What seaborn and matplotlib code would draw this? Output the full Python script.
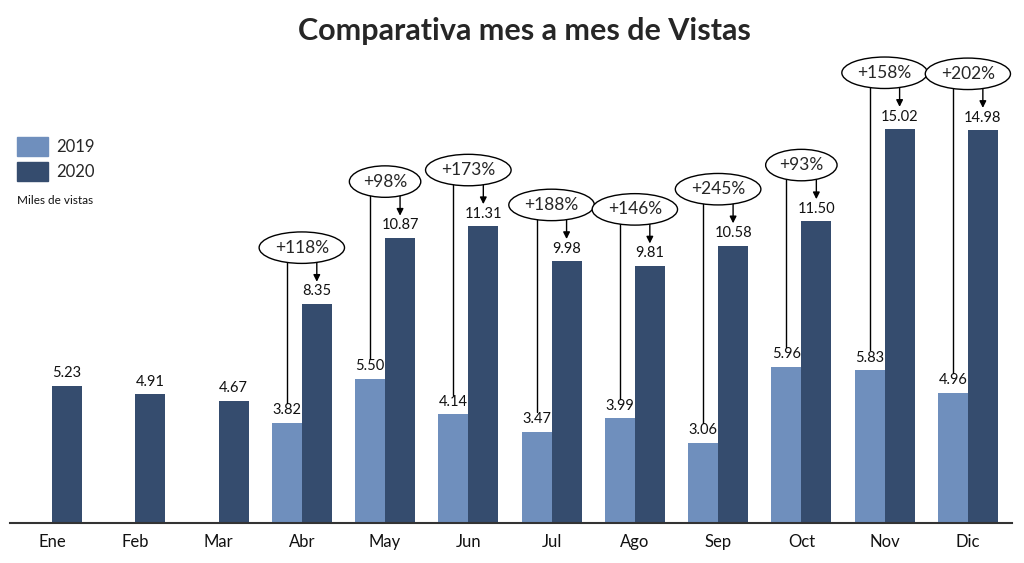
import pandas as pd
import matplotlib.pyplot as plt
import seaborn as sns
from matplotlib.patches import Patch

# Datos (miles de vistas)
months = ['Ene', 'Feb', 'Mar', 'Abr', 'May', 'Jun', 'Jul', 'Ago', 'Sep', 'Oct', 'Nov', 'Dic']
views_2019 = [None, None, None, 3.82, 5.50, 4.14, 3.47, 3.99, 3.06, 5.96, 5.83, 4.96]
views_2020 = [5.23, 4.91, 4.67, 8.35, 10.87, 11.31, 9.98, 9.81, 10.58, 11.50, 15.02, 14.98]
growth_labels = [None, None, None, '+118%', '+98%', '+173%', '+188%', '+146%',
                 '+245%', '+93%', '+158%', '+202%']

COLOR_2019 = '#6f8fbd'
COLOR_2020 = '#354c6e'


def build_frame():
    df = pd.DataFrame({'mes': months * 2,
                       'año': ['2019'] * 12 + ['2020'] * 12,
                       'vistas': views_2019 + views_2020})
    df['vistas'] = pd.to_numeric(df['vistas'])
    return df


def draw(df):
    sns.set_style('white')
    plt.rcParams['font.family'] = ['Lato', 'DejaVu Sans']

    fig = plt.figure(figsize=(10.24, 5.63), dpi=100)
    ax = fig.add_axes([10 / 1024, 40 / 563, 1002 / 1024, 472 / 563])

    sns.barplot(data=df, x='mes', y='vistas', hue='año', order=months,
                hue_order=['2019', '2020'], palette=[COLOR_2019, COLOR_2020],
                width=0.72, saturation=1, errorbar=None, legend=False,
                linewidth=0, ax=ax)

    for cont in ax.containers:
        ax.bar_label(cont, fmt='%.2f', padding=4, fontsize=10.5, color='#111111')

    # Anotaciones de crecimiento
    off = 0.72 / 4
    for i, lab in enumerate(growth_labels):
        if lab is None:
            continue
        v19, v20 = views_2019[i], views_2020[i]
        top = v20 + 2.15
        ax.plot([i - off, i - off], [v19 + 0.75, top], color='black', lw=1, zorder=3)
        ax.annotate('', xy=(i + off, v20 + 0.85), xytext=(i + off, top),
                    arrowprops=dict(arrowstyle='-|>', color='black', lw=1,
                                    mutation_scale=10, shrinkA=0, shrinkB=0),
                    zorder=3)
        ax.text(i, top, lab, ha='center', va='center', fontsize=12.5, zorder=5,
                bbox=dict(boxstyle='ellipse,pad=0.18', fc='white', ec='black', lw=1))

    ax.set_xlim(-0.505, 11.53)
    ax.set_ylim(0, 18)
    ax.set_xlabel('')
    ax.set_ylabel('')
    ax.set_yticks([])
    ax.tick_params(axis='x', length=0, pad=8, labelsize=12, labelcolor='#111111')
    for side in ['top', 'right', 'left']:
        ax.spines[side].set_visible(False)
    ax.spines['bottom'].set_color('#333333')
    ax.spines['bottom'].set_linewidth(1.5)

    handles = [Patch(color=COLOR_2019, label='2019'), Patch(color=COLOR_2020, label='2020')]
    fig.legend(handles=handles, loc='upper left', bbox_to_anchor=(10 / 1024, 1 - 130 / 563),
               frameon=False, fontsize=12, handlelength=1.9, handleheight=1.4,
               handletextpad=0.5, labelspacing=0.35, borderaxespad=0)
    fig.text(17 / 1024, 1 - 201 / 563, 'Miles de vistas', fontsize=8.5,
             va='center', ha='left', color='#111111')

    fig.text(0.512, 1 - 31 / 563, 'Comparativa mes a mes de Vistas', fontsize=22,
             fontweight='bold', ha='center', va='center')

    fig.savefig('out.png', dpi=100)


def main():
    df = build_frame()
    draw(df)


if __name__ == "__main__":
    main()
